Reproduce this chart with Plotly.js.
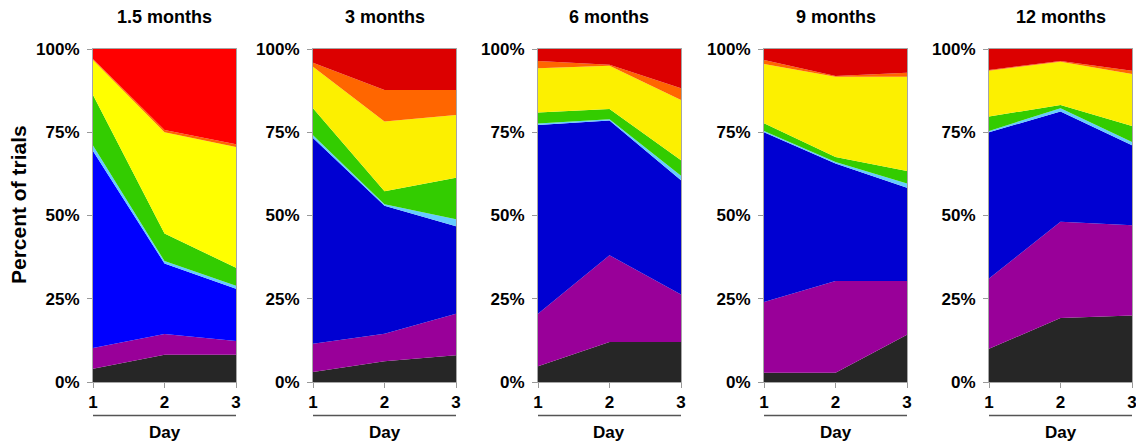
<!DOCTYPE html>
<html>
<head>
<meta charset="utf-8">
<script src="https://cdn.plot.ly/plotly-3.0.1.min.js"></script>
<style>html,body{margin:0;padding:0;background:#fff;}#chart{width:1136px;height:443px;}</style>
</head>
<body>
<div id="chart"></div>
<script>
// Categories
const days = [1, 2, 3];
const panelTitles = ["1.5 months", "3 months", "6 months", "9 months", "12 months"];
const yTickVals = [0, 25, 50, 75, 100];
const yTickText = ["0%", "25%", "50%", "75%", "100%"];

// Layer values (percent of trials), one array of [day1, day2, day3] per panel
const layerBlack     = [[4, 8.2, 8.2],   [3, 6.2, 8],     [4.7, 12, 12],    [2.8, 2.8, 14.2], [10, 19.2, 20]];
const layerPurple    = [[6.2, 6.2, 4.1], [8.5, 8.3, 12.5],[15.8, 26.1, 14.3],[21.2, 27.5, 16.1],[21.1, 28.9, 27.1]];
const layerBlue      = [[59.2, 21.2, 15.7],[61.8, 38.4, 26.3],[56.7, 40.4, 34.3],[51, 35.3, 28],[43.9, 33.1, 24]];
const layerLightBlue = [[1.6, 0.7, 0.9], [0.8, 0.5, 2.1], [0.4, 0.4, 1.3], [0.4, 0.5, 1.3], [0.4, 1, 1]];
const layerGreen     = [[15.2, 8.3, 5.4],[8.1, 3.9, 12.4],[3.3, 3.1, 4.7],  [2.3, 1.5, 3.8],  [4.3, 1, 4.8]];
const layerYellow    = [[10.5, 30.4, 36.3],[12.5, 20.9, 18.9],[13.3, 13, 18.1],[17.8, 24.1, 28.3],[13.8, 13, 15.6]];
const layerOrange    = [[0.3, 0.7, 0.8], [1.2, 9.5, 7.5], [2.2, 0.3, 3.5], [1.2, 0.2, 1.2], [0.2, 0.2, 1]];
const layerRed       = [[3, 24.3, 28.6], [4.1, 12.3, 12.3],[3.6, 4.7, 11.8],[3.3, 8.1, 7.1], [6.3, 3.6, 6.5]];

const layers = [
  {name: "black", vals: layerBlack, color: ["#262626","#262626","#262626","#262626","#262626"]},
  {name: "purple", vals: layerPurple, color: ["#990099","#990099","#990099","#990099","#990099"]},
  {name: "blue", vals: layerBlue, color: ["#0000FF","#0000D2","#0000D2","#0000D2","#0000D2"]},
  {name: "light blue", vals: layerLightBlue, color: ["#66CCFF","#66CCFF","#66CCFF","#66CCFF","#66CCFF"]},
  {name: "green", vals: layerGreen, color: ["#33CC00","#33CC00","#33CC00","#33CC00","#33CC00"]},
  {name: "yellow", vals: layerYellow, color: ["#FFFF00","#FCF000","#FCF000","#FCF000","#FCF000"]},
  {name: "orange", vals: layerOrange, color: ["#FF6600","#FF6600","#FF6600","#FF6600","#FF6600"]},
  {name: "red", vals: layerRed, color: ["#FF0000","#DC0000","#DC0000","#DC0000","#DC0000"]}
];

const W = 1136, H = 443;
const panelLeft = [93, 313, 538, 764, 989];
const panelWidth = 143;
const yTopPx = 49, yBotPx = 382;

const FONT = "Liberation Sans, Arial, Helvetica, sans-serif";
const traces = [];
const layout = {
  width: W, height: H,
  margin: {l: 0, r: 0, t: 0, b: 0},
  paper_bgcolor: "#fff", plot_bgcolor: "#fff",
  showlegend: false,
  font: {family: FONT, color: "#000"},
  annotations: [], shapes: []
};

for (let p = 0; p < 5; p++) {
  const ax = p === 0 ? "" : String(p + 1);
  layers.forEach(L => {
    traces.push({
      x: days, y: L.vals[p], type: "scatter", mode: "lines",
      stackgroup: "g" + p, fill: "tonexty",
      fillcolor: L.color[p], line: {width: 0, color: L.color[p]},
      name: L.name, xaxis: "x" + ax, yaxis: "y" + ax, hoverinfo: "skip"
    });
  });
  const x0 = panelLeft[p] / W, x1 = (panelLeft[p] + panelWidth) / W;
  layout["xaxis" + ax] = {
    domain: [x0, x1], range: [1, 3], anchor: "y" + ax,
    tickvals: days, ticktext: days.map(String),
    ticks: "outside", ticklen: 5, tickcolor: "#999", tickwidth: 1,
    ticklabeloverflow: "allow",
    showline: true, linecolor: "#a6a6a6", linewidth: 1, mirror: true,
    showgrid: false, zeroline: false, fixedrange: true,
    tickfont: {family: FONT, size: 17, weight: "bold", color: "#000"}
  };
  layout["yaxis" + ax] = {
    domain: [(H - yBotPx) / H, (H - yTopPx) / H], range: [0, 100], anchor: "x" + ax,
    tickvals: yTickVals, ticktext: yTickText,
    ticks: "outside", ticklen: 5, tickcolor: "#999", tickwidth: 1,
    ticklabelstandoff: 4, ticklabeloverflow: "allow",
    showline: true, linecolor: "#a6a6a6", linewidth: 1, mirror: true,
    showgrid: false, zeroline: false, fixedrange: true,
    tickfont: {family: FONT, size: 17, weight: "bold", color: "#000"}
  };
  layout.annotations.push({
    text: panelTitles[p], xref: "paper", yref: "paper",
    x: (x0 + x1) / 2, y: (H - 17) / H, xanchor: "center", yanchor: "middle",
    showarrow: false, font: {family: FONT, size: 18, weight: "bold", color: "#000"}
  });
  layout.annotations.push({
    text: "Day", xref: "paper", yref: "paper",
    x: (x0 + x1) / 2, y: (H - 432) / H, xanchor: "center", yanchor: "middle",
    showarrow: false, font: {family: FONT, size: 17, weight: "bold", color: "#000"}
  });
  layout.shapes.push({
    type: "line", xref: "x" + ax, yref: "paper",
    x0: 1, x1: 3, y0: (H - 415.5) / H, y1: (H - 415.5) / H,
    line: {color: "#555", width: 1.5}
  });
}
layout.annotations.push({
  text: "Percent of trials", xref: "paper", yref: "paper",
  x: 18 / W, y: (H - 205) / H, xanchor: "center", yanchor: "middle", textangle: -90,
  showarrow: false, font: {family: FONT, size: 21, weight: "bold", color: "#000"}
});

Plotly.newPlot("chart", traces, layout, {displayModeBar: false, staticPlot: true});
</script>
</body>
</html>
